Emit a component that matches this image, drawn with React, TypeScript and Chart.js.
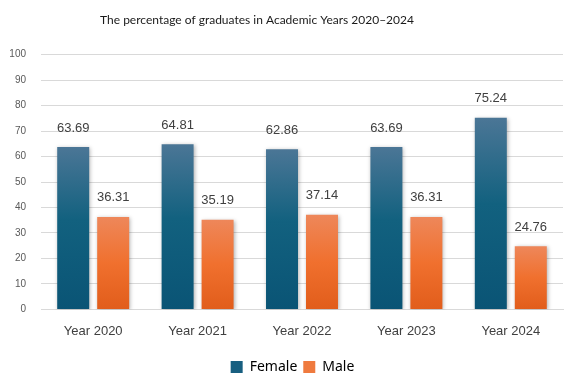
import React, { useEffect, useRef } from "react";
import { Chart, registerables } from "chart.js";

Chart.register(...registerables);

const categories = ["Year 2020", "Year 2021", "Year 2022", "Year 2023", "Year 2024"];
const femaleValues = [63.69, 64.81, 62.86, 63.69, 75.24];
const maleValues = [36.31, 35.19, 37.14, 36.31, 24.76];
const titleText = "The percentage of graduates in Academic Years 2020\u20132024";

function makeGradient(ctx: any, stops: [number, string][]) {
  const chart = ctx.chart;
  const area = chart.chartArea;
  if (!area) return stops[stops.length - 1][1];
  const yScale = chart.scales.y;
  const v = ctx.raw as number;
  const top = yScale.getPixelForValue(v);
  const bottom = yScale.getPixelForValue(0);
  const g = chart.ctx.createLinearGradient(0, top, 0, bottom);
  stops.forEach(([o, c]) => g.addColorStop(o, c));
  return g;
}

const labelPlugin = {
  id: "valueLabels",
  afterDatasetsDraw(chart: any) {
    const ctx = chart.ctx;
    ctx.save();
    ctx.font = "13px 'Liberation Sans', sans-serif";
    ctx.fillStyle = "#404040";
    ctx.textAlign = "center";
    ctx.textBaseline = "middle";
    chart.data.datasets.forEach((ds: any, i: number) => {
      const meta = chart.getDatasetMeta(i);
      meta.data.forEach((bar: any, j: number) => {
        ctx.fillText(ds.data[j].toFixed(2), bar.x, bar.y - 19);
      });
    });
    ctx.restore();
  },
};

const titlePlugin = {
  id: "customTitle",
  afterDraw(chart: any) {
    const ctx = chart.ctx;
    ctx.save();
    ctx.font = "12px Lato, sans-serif";
    ctx.fillStyle = "#1a1a1a";
    ctx.textAlign = "center";
    ctx.textBaseline = "middle";
    ctx.fillText(titleText, 257, 20);
    ctx.restore();
  },
};

const legendShiftPlugin = {
  id: "legendShift",
  afterLayout(chart: any) {
    const lg = chart.legend;
    if (lg) {
      lg.top += 4;
      lg.bottom += 4;
    }
  },
};

const shadowPlugin = {
  id: "barShadow",
  beforeDatasetsDraw(chart: any) {
    const ctx = chart.ctx;
    ctx.save();
    ctx.shadowColor = "rgba(0,0,0,0.3)";
    ctx.shadowBlur = 4;
    ctx.shadowOffsetX = 1;
    ctx.shadowOffsetY = 1;
  },
  afterDatasetsDraw(chart: any) {
    chart.ctx.restore();
  },
};

export default function App() {
  const canvasRef = useRef<HTMLCanvasElement | null>(null);

  useEffect(() => {
    document.body.style.margin = "0";
    const canvas = canvasRef.current;
    if (!canvas) return;
    const chart = new Chart(canvas, {
      type: "bar",
      data: {
        labels: categories,
        datasets: [
          {
            label: "Female",
            data: femaleValues,
            backgroundColor: (c: any) =>
              makeGradient(c, [
                [0, "#4b7696"],
                [0.45, "#12617f"],
                [1, "#0a5475"],
              ]),
            borderWidth: 0,
          },
          {
            label: "Male",
            data: maleValues,
            backgroundColor: (c: any) =>
              makeGradient(c, [
                [0, "#ee875a"],
                [0.5, "#f0702e"],
                [1, "#e15d1b"],
              ]),
            borderWidth: 0,
          },
        ],
      },
      options: {
        responsive: false,
        animation: false,
        maintainAspectRatio: false,
        layout: { padding: { left: 0, right: 0, top: 4, bottom: 0 } },
        datasets: {
          bar: { barPercentage: 0.8, categoryPercentage: 0.766 },
        },
        plugins: {
          title: {
            display: true,
            text: titleText,
            color: "rgba(0,0,0,0)",
            font: { family: "Lato, sans-serif", size: 13, weight: "normal" },
            padding: { top: 8, bottom: 27 },
          },
          legend: {
            position: "bottom",
            labels: {
              color: "#595959",
              font: { family: "'Noto Sans', sans-serif", size: 14 },
              boxWidth: 12,
              boxHeight: 12,
              padding: 6,
              generateLabels: () => [
                { text: "Female", fillStyle: "#185f80", strokeStyle: "transparent", lineWidth: 0, datasetIndex: 0 },
                { text: "Male", fillStyle: "#ef7a3e", strokeStyle: "transparent", lineWidth: 0, datasetIndex: 1 },
              ],
            },
          },
          tooltip: { enabled: false },
        },
        scales: {
          x: {
            grid: { display: false },
            border: { color: "#d9d9d9" },
            ticks: {
              color: "#404040",
              font: { family: "'Liberation Sans', sans-serif", size: 13 },
              padding: 6,
            },
            afterFit: (s: any) => {
              s.height += 5;
            },
          },
          y: {
            position: "left",
            min: 0,
            max: 100,
            grid: { color: "#d9d9d9", drawTicks: false },
            border: { display: false },
            ticks: {
              stepSize: 10,
              color: "#595959",
              font: { family: "'Liberation Sans', sans-serif", size: 10 },
              padding: 15,
            },
            afterFit: (s: any) => {
              s.width = 41;
            },
          },
          y2: {
            position: "right",
            min: 0,
            max: 100,
            grid: { display: false },
            border: { display: false },
            ticks: { display: false },
            afterFit: (s: any) => {
              s.width = 22;
            },
          },
        },
      },
      plugins: [shadowPlugin, labelPlugin, titlePlugin, legendShiftPlugin],
    } as any);
    return () => chart.destroy();
  }, []);

  return (
    <div style={{ width: 585, height: 380 }}>
      <canvas ref={canvasRef} width={585} height={380} style={{ width: 585, height: 380 }} />
    </div>
  );
}
